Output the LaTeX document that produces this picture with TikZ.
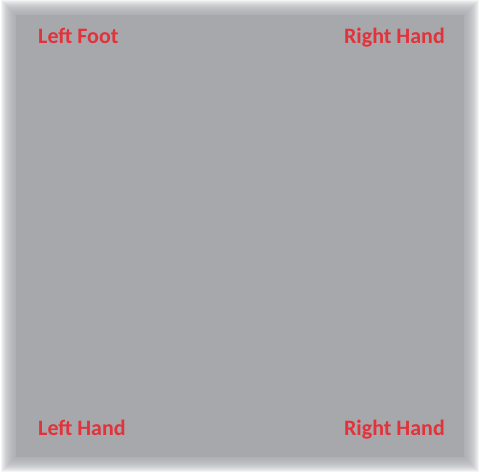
\documentclass[tikz,border=0pt]{standalone}
\usepackage{fontspec}
\setmainfont{Carlito}
\definecolor{panelgray}{RGB}{167,168,172}
\definecolor{labelred}{RGB}{226,50,58}
\tikzset{
  lbl/.style={text=labelred, font=\bfseries\fontsize{22}{26}\selectfont, inner sep=0pt},
  blurlayer/.style={fill=panelgray, fill opacity=0.12, draw=none}
}
\begin{document}
\begin{tikzpicture}[x=1pt,y=-1pt]
\useasboundingbox (0,0) rectangle (481,472);
\fill[white] (0,0) rectangle (481,472);
\foreach \k in {-3,...,12}{
  \fill[blurlayer] (13-\k,12-\k) rectangle (467+\k,460+\k);
}
\fill[panelgray] (16,15) rectangle (464,457);
\node[lbl, anchor=base west] (lf) at (38,43) {Left Foot};
\node[lbl, anchor=base east] (rh1) at (445,43) {Right Hand};
\node[lbl, anchor=base west] (lh) at (38,435) {Left Hand};
\node[lbl, anchor=base east] (rh2) at (445,435) {Right Hand};
\end{tikzpicture}
\end{document}
